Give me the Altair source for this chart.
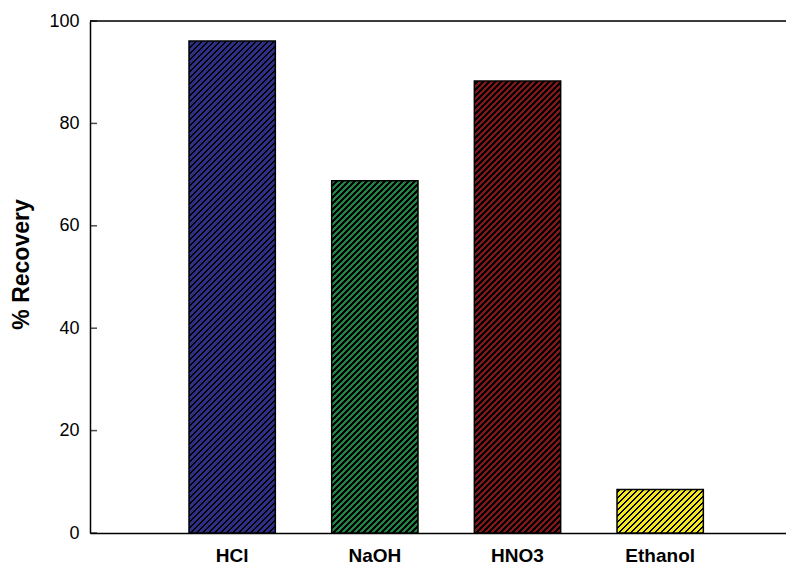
import altair as alt
import pandas as pd

# ---- data ----
categories = ["HCl", "NaOH", "HNO3", "Ethanol"]
recovery = [96.1, 68.8, 88.3, 8.5]
bar_colors = ["#2c2f85", "#1f8444", "#841618", "#f3e81f"]
y_ticks = [0, 20, 40, 60, 80, 100]

# ---- layout / style ----
PLOT_W, PLOT_H = 696, 512
PAD_INNER, PAD_OUTER, ALIGN = 0.395, 0.6367, 0.545
FONT = "Liberation Sans"
PERIOD, LINE = 6.0, 2.7      # hatch period / black line width (px, along x)
SEG_PX = 36.0                # hatch drawn in slices (multiple of PERIOD)
OVER = 1.0                   # slice overlap (px) to hide seams
U_RANGE = 128.0              # gradient length in px (x+y), 0.5 px per LUT step

step = PLOT_W / (len(categories) - PAD_INNER + 2 * PAD_OUTER)
bar_w = step * (1 - PAD_INNER)
px_per_unit = PLOT_H / 100.0


def hatch(color, w, h, phase=0.0):
    """Diagonal '/' hatch as a hard-stop linear gradient (bbox units)."""
    k = U_RANGE / (w * w + h * h)
    pieces = []
    m = -int(phase // PERIOD) - 2
    while phase + m * PERIOD < U_RANGE:
        a = phase + m * PERIOD
        b = a + LINE
        c = a + PERIOD
        for s, e, col in ((a, b, "black"), (b, c, color)):
            s2, e2 = max(s, 0.0), min(e, U_RANGE)
            if e2 > s2:
                pieces.append((s2 / U_RANGE, e2 / U_RANGE, col))
        m += 1
    stops = []
    for s, e, col in pieces:
        stops.append(alt.GradientStop(offset=s, color=col))
        stops.append(alt.GradientStop(offset=e, color=col))
    return alt.LinearGradient(gradient="linear", stops=stops,
                              x1=0, y1=0, x2=w * k, y2=h * k)


df = pd.DataFrame({"solvent": categories, "recovery": recovery})

# slices of each bar (used only to draw the hatch fill)
seg_rows = []
for cat, val in zip(categories, recovery):
    h = val * px_per_unit
    n = int(h // SEG_PX)
    for j in range(n):
        seg_rows.append({"solvent": cat, "kind": "full",
                         "y0": j * SEG_PX / px_per_unit,
                         "y1": ((j + 1) * SEG_PX + OVER) / px_per_unit})
    if h - n * SEG_PX > 0.01:
        seg_rows.append({"solvent": cat, "kind": "top",
                         "y0": n * SEG_PX / px_per_unit, "y1": val})
seg_df = pd.DataFrame(seg_rows)

x_enc = alt.X(
    "solvent:N",
    sort=categories,
    scale=alt.Scale(paddingInner=PAD_INNER, paddingOuter=PAD_OUTER, align=ALIGN),
    axis=alt.Axis(
        title=None, labelAngle=0, labelFont=FONT, labelFontWeight="bold",
        labelFontSize=19, labelColor="black", ticks=False, tickSize=0,
        labelPadding=28, labelBaseline="alphabetic",
        domainColor="black", domainWidth=1.5, grid=False,
    ),
)
y_scale = alt.Scale(domain=[0, 100], nice=False)
y_axis = alt.Axis(
    values=y_ticks, tickSize=0, labelPadding=11, labelFont=FONT,
    labelFontSize=18, labelColor="black", domainColor="black",
    domainWidth=1.5, grid=False, title="% Recovery", titleFont=FONT,
    titleFontSize=23, titleFontWeight="bold", titleColor="black",
    titleX=-62, titleY=243, titleBaseline="alphabetic", titleAngle=270,
)


def y_of(field):
    return alt.Y(field, type="quantitative", scale=y_scale, axis=y_axis,
                 title="% Recovery")


layers = []
for cat, val, col in zip(categories, recovery, bar_colors):
    h = val * px_per_unit
    n = int(h // SEG_PX)
    r = h - n * SEG_PX
    base = alt.Chart(seg_df).encode(x=x_enc, y=y_of("y0"), y2="y1")
    if n > 0:
        layers.append(
            base.transform_filter((alt.datum.solvent == cat) & (alt.datum.kind == "full"))
            .mark_bar(fill=hatch(col, bar_w, SEG_PX + OVER, phase=OVER), strokeWidth=0)
        )
    if r > 0.01:
        layers.append(
            base.transform_filter((alt.datum.solvent == cat) & (alt.datum.kind == "top"))
            .mark_bar(fill=hatch(col, bar_w, r, phase=r), strokeWidth=0)
        )

outline = (
    alt.Chart(df)
    .mark_bar(fill="black", fillOpacity=0, stroke="black", strokeWidth=1.5)
    .encode(x=x_enc, y=y_of("recovery"))
)

top_line = (
    alt.Chart(pd.DataFrame({"recovery": [y_ticks[-1]]}))
    .mark_rule(color="black", strokeWidth=1.5)
    .encode(y=y_of("recovery"))
)

inner_ticks = (
    alt.Chart(pd.DataFrame({"recovery": y_ticks}))
    .mark_tick(orient="horizontal", size=7, thickness=1.5, color="black")
    .encode(y=y_of("recovery"), x=alt.value(3.5))
)

chart = (
    alt.layer(*layers, outline, top_line, inner_ticks)
    .properties(width=PLOT_W, height=PLOT_H,
                autosize=alt.AutoSizeParams(type="none"),
                padding={"left": 82, "top": 13, "right": 0, "bottom": 32})
    .configure_view(stroke=None)
    .configure(background="white")
)

chart.save("out.html", embed_options={"renderer": "svg", "actions": False})
